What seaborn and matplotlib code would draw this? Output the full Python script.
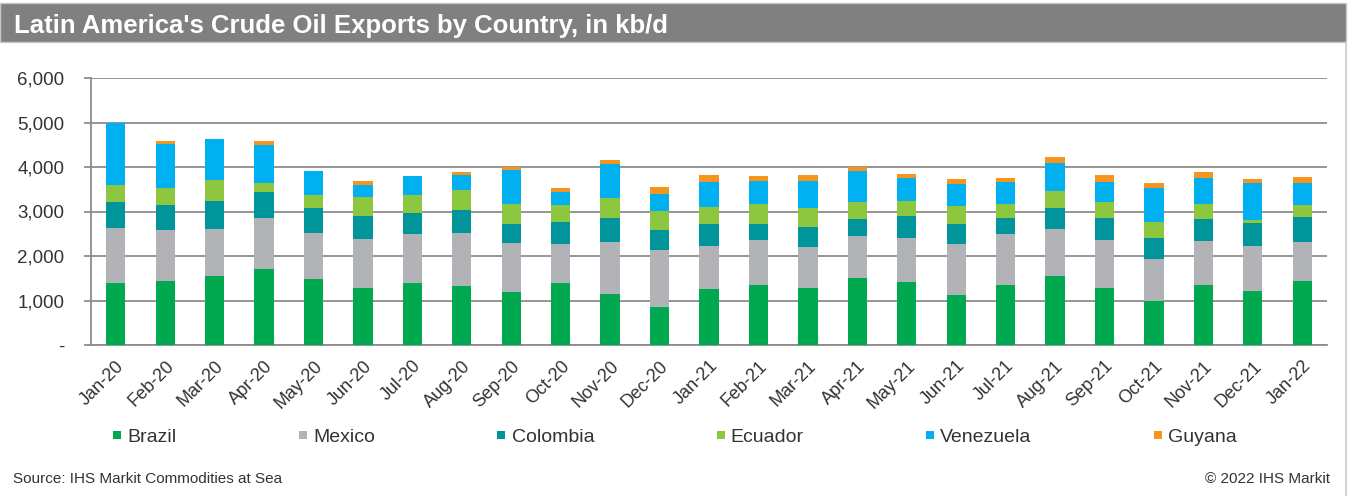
import matplotlib
matplotlib.use("Agg")
import matplotlib.pyplot as plt
from matplotlib.lines import Line2D
from matplotlib.patches import Rectangle
import numpy as np
import pandas as pd
import seaborn as sns

months = ["Jan-20", "Feb-20", "Mar-20", "Apr-20", "May-20", "Jun-20", "Jul-20", "Aug-20",
          "Sep-20", "Oct-20", "Nov-20", "Dec-20", "Jan-21", "Feb-21", "Mar-21", "Apr-21",
          "May-21", "Jun-21", "Jul-21", "Aug-21", "Sep-21", "Oct-21", "Nov-21", "Dec-21", "Jan-22"]
brazil = [1390, 1440, 1540, 1700, 1490, 1290, 1390, 1330, 1200, 1390, 1150, 865, 1255,
          1350, 1275, 1500, 1405, 1125, 1350, 1560, 1285, 1000, 1350, 1210, 1435]
mexico = [1245, 1140, 1065, 1165, 1020, 1090, 1105, 1180, 1085, 890, 1170, 1275, 970,
          1000, 920, 955, 990, 1155, 1155, 1045, 1075, 940, 985, 1015, 875]
colombia = [580, 560, 640, 565, 560, 515, 475, 530, 445, 475, 535, 435, 505,
            380, 465, 380, 500, 435, 360, 465, 500, 465, 500, 515, 560]
ecuador = [390, 395, 470, 200, 300, 430, 405, 440, 435, 390, 440, 440, 375,
           440, 410, 380, 345, 405, 300, 390, 360, 350, 330, 75, 275]
venezuela = [1390, 985, 905, 865, 530, 260, 425, 335, 760, 285, 775, 375, 560,
             515, 620, 695, 515, 495, 500, 640, 450, 775, 595, 830, 500]
guyana = [0, 75, 15, 95, 0, 95, 0, 75, 75, 90, 95, 150, 150,
          105, 125, 90, 80, 105, 95, 125, 150, 110, 125, 95, 120]

countries = ["Brazil", "Mexico", "Colombia", "Ecuador", "Venezuela", "Guyana"]
series = [brazil, mexico, colombia, ecuador, venezuela, guyana]
colors = ["#00A84F", "#B2B3B6", "#00959A", "#8DC63F", "#00B0F0", "#F7941E"]
yticks = [0, 1000, 2000, 3000, 4000, 5000, 6000]
ytick_labels = ["-", "1,000", "2,000", "3,000", "4,000", "5,000", "6,000"]

sns.set_theme(style="white")
plt.rcParams["font.family"] = ["Liberation Sans", "DejaVu Sans"]

W, H = 1349, 496
fig = plt.figure(figsize=(W / 100, H / 100), dpi=100)
ax = fig.add_axes([91 / W, 1 - 345 / H, (1327 - 91) / W, (345 - 78) / H])

df = pd.DataFrame({"month": months})
bottom = np.zeros(len(months))
for name, vals, col in zip(countries, series, colors):
    df[name] = vals
    sns.barplot(data=df, x="month", y=name, bottom=bottom, color=col,
                width=0.39, ax=ax, saturation=1, linewidth=0, zorder=3)
    bottom = bottom + np.array(vals)

ax.set_xlim(-0.5, len(months) - 0.5)
ax.set_ylim(0, 6000)
ax.set_yticks(yticks)
ax.set_yticklabels(ytick_labels)
ax.set_xlabel("")
ax.set_ylabel("")
ax.yaxis.grid(True, color="#8C8C8C", linewidth=1.3, zorder=0)
ax.set_axisbelow(True)
for s in ["top", "right"]:
    ax.spines[s].set_visible(False)
for s in ["left", "bottom"]:
    ax.spines[s].set_color("#8C8C8C")
    ax.spines[s].set_linewidth(1.3)

ax.set_xticks(np.arange(len(months)))
ax.set_xticks(np.arange(-0.5, len(months)), minor=True)
ax.set_xticklabels(months, rotation=45, ha="right", va="top", rotation_mode="anchor",
                   fontsize=13, color="#333333")
ax.tick_params(axis="x", which="major", length=0, pad=9)
ax.tick_params(axis="x", which="minor", length=5, width=1.3, color="#8C8C8C", direction="out")
ax.tick_params(axis="y", which="major", length=5, width=1.3, color="#8C8C8C", direction="out",
               labelsize=13.5, labelcolor="#333333", pad=14)
ax.tick_params(axis="y", left=True)
for lab in ax.get_yticklabels():
    lab.set_horizontalalignment("right")

handles = [Line2D([0], [0], marker="s", linestyle="none", markersize=6, color=c,
                  markeredgewidth=0) for c in colors]
fig.legend(handles, countries, loc="center left", bbox_to_anchor=(113 / W, 1 - 437 / H),
           ncol=6, frameon=False, fontsize=14, handlelength=0.45, handletextpad=0.3,
           columnspacing=6.27, borderpad=0, borderaxespad=0, labelcolor="#333333")

# title banner
fig.patches.append(Rectangle((0, 1 - 42 / H), 1346 / W, 39 / H, transform=fig.transFigure,
                             facecolor="#808080", edgecolor="#C8C8C8", linewidth=1, zorder=0))
fig.text(14 / W, 1 - 33 / H, "Latin America's Crude Oil Exports by Country, in kb/d",
         color="white", fontsize=18.5, fontweight="bold", va="baseline", ha="left")
fig.add_artist(Line2D([1346 / W, 1346 / W], [0, 1 - 42 / H], transform=fig.transFigure,
                      color="#C8C8C8", linewidth=1.2))

fig.text(13 / W, 1 - 479 / H, "Source: IHS Markit Commodities at Sea", fontsize=11,
         color="#333333", va="center", ha="left")
fig.text(1330 / W, 1 - 479 / H, "\u00a9 2022 IHS Markit", fontsize=11,
         color="#333333", va="center", ha="right")

fig.savefig("out.png", dpi=100)
